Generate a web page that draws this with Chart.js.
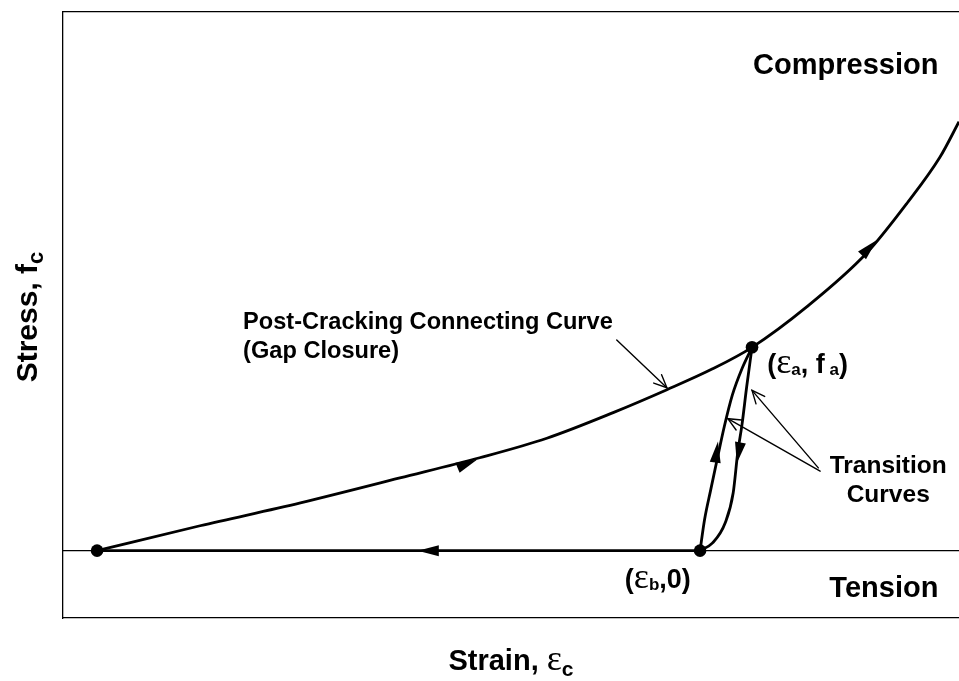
<!DOCTYPE html>
<html><head><meta charset="utf-8">
<script src="https://cdn.jsdelivr.net/npm/chart.js@4"></script>
<style>html,body{margin:0;padding:0;background:#fff;overflow:hidden}#wrap{width:959px;height:681px;position:relative}</style>
</head><body><div id="wrap"><canvas id="c"></canvas></div>
<script>
// ---- data (arbitrary strain / stress units) ----
const curveStrain = [0.38, 1.53, 2.65, 3.76, 4.65, 5.40, 6.14, 6.74, 7.25, 7.69, 8.30, 8.97, 9.42, 9.79, 10.0];
const curveStress = [0, 0.37, 0.71, 1.08, 1.38, 1.67, 2.05, 2.39, 2.70, 3.02, 3.62, 4.42, 5.16, 5.85, 6.37];
const unloadStrain = [0.38, 7.11];
const unloadStress = [0, 0];
const axisStrain = [0, 10];
const axisStress = [0, 0];
const upStrain = [7.11, 7.16, 7.23, 7.30, 7.38, 7.47, 7.58, 7.69];
const upStress = [0, 0.46, 0.91, 1.35, 1.84, 2.31, 2.71, 3.02];
const downStrain = [7.11, 7.25, 7.39, 7.48, 7.53, 7.58, 7.63, 7.69];
const downStress = [0, 0.115, 0.41, 0.86, 1.45, 1.89, 2.43, 3.02];
const keyStrain = [0.38, 7.11, 7.69];
const keyStress = [0, 0, 3.02];
// direction arrows on the loading path: tip and tail points
const arrowTipX = [4.62, 9.08, 3.96, 7.31, 7.52];
const arrowTipY = [1.35, 4.61, 0, 1.62, 1.30];
const arrowTailX = [4.40, 8.90, 4.21, 7.28, 7.56];
const arrowTailY = [1.23, 4.36, 0, 1.32, 1.60];
// pointer lines from labels
const pointerFromX = [6.18, 8.45, 8.43];
const pointerFromY = [3.13, 1.18, 1.23];
const pointerToX = [6.74, 7.42, 7.69];
const pointerToY = [2.42, 1.96, 2.38];

const pts = (xs, ys) => xs.map((x, i) => ({x: x, y: ys[i]}));

const B = '"Liberation Sans", Arial, sans-serif';
const S = '"Liberation Serif", "Times New Roman", serif';
function runsWidth(ctx, runs) {
  let w = 0;
  runs.forEach(r => { ctx.font = r.f; w += ctx.measureText(r.t).width; });
  return w;
}
function drawRuns(ctx, runs, x, y, align) {
  const w = runsWidth(ctx, runs);
  let cx = align === 'center' ? x - w / 2 : align === 'right' ? x - w : x;
  ctx.textAlign = 'left';
  ctx.textBaseline = 'alphabetic';
  runs.forEach(r => { ctx.font = r.f; ctx.fillText(r.t, cx, y + (r.dy || 0)); cx += ctx.measureText(r.t).width; });
}

const overlay = {
  id: 'overlay',
  afterDatasetsDraw(chart) {
    const ctx = chart.ctx, xs = chart.scales.x, ys = chart.scales.y, ca = chart.chartArea;
    ctx.save();
    ctx.fillStyle = '#000'; ctx.strokeStyle = '#000';
    // filled direction arrows
    for (let i = 0; i < arrowTipX.length; i++) {
      const tx = xs.getPixelForValue(arrowTipX[i]), ty = ys.getPixelForValue(arrowTipY[i]);
      const bx = xs.getPixelForValue(arrowTailX[i]), by = ys.getPixelForValue(arrowTailY[i]);
      const a = Math.atan2(ty - by, tx - bx), L = 21, H = 5.5;
      ctx.beginPath();
      ctx.moveTo(tx, ty);
      ctx.lineTo(tx - L * Math.cos(a) + H * Math.sin(a), ty - L * Math.sin(a) - H * Math.cos(a));
      ctx.lineTo(tx - L * Math.cos(a) - H * Math.sin(a), ty - L * Math.sin(a) + H * Math.cos(a));
      ctx.closePath(); ctx.fill();
    }
    // thin pointer lines with open heads
    ctx.lineWidth = 1.4; ctx.lineCap = 'round';
    for (let i = 0; i < pointerFromX.length; i++) {
      const fx = xs.getPixelForValue(pointerFromX[i]), fy = ys.getPixelForValue(pointerFromY[i]);
      const tx = xs.getPixelForValue(pointerToX[i]), ty = ys.getPixelForValue(pointerToY[i]);
      const a = Math.atan2(ty - fy, tx - fx), L = 14, sp = 0.42;
      ctx.beginPath(); ctx.moveTo(fx, fy); ctx.lineTo(tx, ty); ctx.stroke();
      ctx.beginPath();
      ctx.moveTo(tx - L * Math.cos(a - sp), ty - L * Math.sin(a - sp));
      ctx.lineTo(tx, ty);
      ctx.lineTo(tx - L * Math.cos(a + sp), ty - L * Math.sin(a + sp));
      ctx.stroke();
    }
    const P = (x, y) => [xs.getPixelForValue(x), ys.getPixelForValue(y)];
    const f29 = 'bold 29px ' + B, fPost = 'bold 23.6px ' + B, fTr = 'bold 24.5px ' + B;
    const f27 = 'bold 27px ' + B, s17 = 'bold 17px ' + B, eps = '36px ' + S;
    let p;
    p = P(9.77, 7.08); drawRuns(ctx, [{t: 'Compression', f: f29}], p[0], p[1], 'right');
    p = P(9.77, -0.69); drawRuns(ctx, [{t: 'Tension', f: f29}], p[0], p[1], 'right');
    p = P(2.01, 3.29); drawRuns(ctx, [{t: 'Post-Cracking Connecting Curve', f: fPost}], p[0], p[1], 'left');
    p = P(2.01, 2.86); drawRuns(ctx, [{t: '(Gap Closure)', f: fPost}], p[0], p[1], 'left');
    p = P(9.21, 1.15); drawRuns(ctx, [{t: 'Transition', f: fTr}], p[0], p[1], 'center');
    p = P(9.21, 0.72); drawRuns(ctx, [{t: 'Curves', f: fTr}], p[0], p[1], 'center');
    p = P(7.86, 2.64);
    drawRuns(ctx, [{t: '(', f: f27}, {t: 'ε', f: eps}, {t: 'a', f: s17, dy: 2}, {t: ', f', f: f27}, {t: ' a', f: s17, dy: 2}, {t: ')', f: f27}], p[0], p[1], 'left');
    p = P(6.27, -0.55);
    drawRuns(ctx, [{t: '(', f: f27}, {t: 'ε', f: eps}, {t: 'b', f: s17, dy: 2}, {t: ',0)', f: f27}], p[0], p[1], 'left');
    // axis titles
    const midX = (ca.left + ca.right) / 2, midY = (ca.top + ca.bottom) / 2;
    drawRuns(ctx, [{t: 'Strain, ', f: f29}, {t: 'ε', f: '36px ' + S}, {t: 'c', f: 'bold 21px ' + B, dy: 6}], midX, ca.bottom + 52, 'center');
    ctx.translate(37, midY + 2); ctx.rotate(-Math.PI / 2);
    drawRuns(ctx, [{t: 'Stress, f', f: 'bold 30px ' + B}, {t: 'c', f: 'bold 22px ' + B, dy: 6}], 0, 0, 'center');
    ctx.restore();
  }
};

const noAxis = (pos, extra) => Object.assign({
  type: 'linear', position: pos, ticks: {display: false},
  grid: {display: false, drawTicks: false, tickLength: 0},
  border: {display: true, color: '#000', width: 1.3}
}, extra);

new Chart(document.getElementById('c'), {
  type: 'line',
  data: {
    datasets: [
      {data: pts(axisStrain, axisStress), borderColor: '#000', borderWidth: 1.2, pointRadius: 0},
      {data: pts(unloadStrain, unloadStress), borderColor: '#000', borderWidth: 2.8, pointRadius: 0},
      {data: pts(curveStrain, curveStress), borderColor: '#000', borderWidth: 2.8, pointRadius: 0, cubicInterpolationMode: 'monotone'},
      {data: pts(upStrain, upStress), borderColor: '#000', borderWidth: 2.8, pointRadius: 0, cubicInterpolationMode: 'monotone'},
      {data: pts(downStrain, downStress), borderColor: '#000', borderWidth: 2.8, pointRadius: 0, cubicInterpolationMode: 'monotone'},
      {data: pts(keyStrain, keyStress), showLine: false, pointRadius: 6.3, pointBackgroundColor: '#000', pointBorderWidth: 0, clip: false}
    ]
  },
  options: {
    responsive: true, maintainAspectRatio: false, animation: false, devicePixelRatio: 1,
    layout: {autoPadding: false, padding: {left: 63, right: 0, top: 12, bottom: 63}},
    plugins: {legend: {display: false}, tooltip: {enabled: false}},
    scales: {
      x: noAxis('bottom', {min: 0, max: 10}),
      xTop: noAxis('top', {min: 0, max: 10}),
      y: noAxis('left', {min: -1, max: 8})
    }
  },
  plugins: [overlay]
});
</script></body></html>
